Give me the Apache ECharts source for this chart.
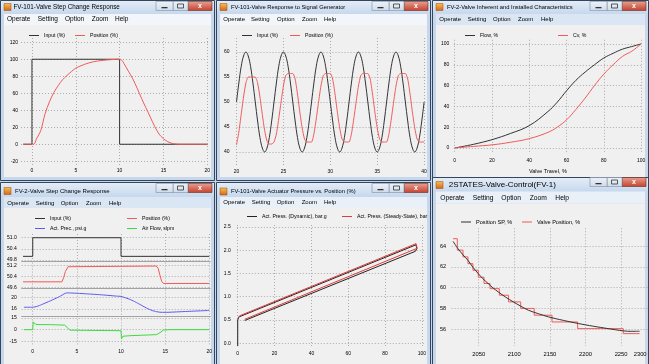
<!DOCTYPE html>
<html><head><meta charset="utf-8">
<script src="https://cdn.jsdelivr.net/npm/echarts@6/dist/echarts.min.js"></script>
<style>html,body{margin:0;padding:0;background:#c7d8ec;}#c{width:649px;height:364px;}</style>
</head><body><div id="c"></div>
<script>
// ---------------- DATA ----------------
// W1: FV-101 step change
const w1Input = [[-1,0],[0,0],[0,100],[10,100],[10,0],[20,0]];
const w1Position = [[-1,0],[0.2,0],[0.5,6],[1,16],[1.5,36],[2,50],[2.5,61],[3,69],[3.5,76],[4,81],[4.5,85.5],[5,89.5],[6,94],[7,97],[8,98.6],[9,99.5],[10,100],[10.2,99.5],[10.5,95],[11,86],[11.5,77],[12,66],[12.5,54],[13,43],[13.5,32],[14,21],[14.5,12],[15,6.5],[15.5,3],[16,1],[16.5,0.2],[17,0],[20,0]];
// W2: signal generator (sampled every 0.25 from t=20)
const w2T0 = 20, w2Dt = 0.25;
const w2Input = [50,53.8,57.1,59.2,60,59.2,57.1,53.8,50,46.2,42.9,40.8,40,40.8,42.9,46.2,
 50,53.8,57.1,59.2,60,59.2,57.1,53.8,50,46.2,42.9,40.8,40,40.8,42.9,46.2,
 50,53.8,57.1,59.2,60,59.2,57.1,53.8,50,46.2,42.9,40.8,40,40.8,42.9,46.2,
 50,53.8,57.1,59.2,60,59.2,57.1,53.8,50,46.2,42.9,40.8,40,40.8,42.9,46.2,
 50,53.8,57.1,59.2,60,59.2,57.1,53.8,50,46.2,42.9,40.8,40,40.8,42.9,46.2,50];
const w2Position = [41.4,44.0,47.5,51.0,53.8,55.0,55.0,55.0,55.0,53.8,51.0,47.5,44.3,42.2,41.6,41.6,
 42.0,43.6,46.6,50.0,53.2,55.3,55.7,55.7,55.7,54.6,51.6,48.0,44.8,42.6,42.0,42.0,
 42.0,43.6,46.6,50.0,53.2,55.3,55.7,55.7,55.7,54.6,51.6,48.0,44.8,42.6,42.0,42.0,
 42.0,43.6,46.6,50.0,53.2,55.3,55.7,55.7,55.7,54.6,51.6,48.0,44.8,42.6,42.0,42.0,
 42.0,43.6,46.6,50.0,53.2,55.3,55.7,55.7,55.7,54.6,51.6,48.0,44.8,42.6,42.0,42.0,42.0];
// W3: valve characteristics
const w3Flow = [[0,0],[10,3.5],[20,8],[30,14],[40,21.5],[50,35],[55,44],[60,55],[65,65],[70,73],[75,80],[80,86.5],[85,91],[90,95],[95,97.5],[100,100]];
const w3Cv = [[0,0],[10,1.5],[20,3],[30,5.5],[40,9],[50,15],[55,20],[60,27],[65,37],[70,48],[75,60],[80,71],[85,80],[90,88],[95,93],[100,100]];
// W4: FV-2 step change (4 stacked panels)
const w4Input = [[-1.1,50],[0,50],[0,51],[10,51],[10,50],[20,50]];
const w4Position = [[-1.1,50],[3.3,50],[3.5,50.3],[3.7,50.75],[4,51.1],[4.2,51.15],[14,51.15],[14.2,51],[14.4,50.5],[14.6,50.05],[14.8,49.88],[20,49.88]];
const w4ActPress = [[-1,16.6],[0,16.6],[0.5,16.9],[1,17.5],[2,18.8],[3,20.2],[3.7,21.4],[4,21.5],[6,21.2],[8,20.8],[9.5,20.4],[10,20.3],[11,19.3],[11.5,18.6],[12,17.8],[12.9,16.3],[13.5,15.5],[14,15.1],[14.4,14.9],[15,14.85],[17,15.1],[20,15.5]];
const w4AirFlow = [[-1,0],[0,0],[0.05,10],[0.2,10.5],[0.3,7],[0.6,6.5],[2,6.4],[3.6,5.8],[3.9,3],[4.2,-0.6],[6,-0.9],[10,-1.4],[10.05,-12],[10.2,-8.5],[11,-7.8],[14,-6.4],[14.4,-4],[14.8,-0.6],[15.5,0],[20,0]];
// W5: actuator pressure loop
const w5Dynamic = [[0,-0.06],[0,0.5],[0.6,0.565],[96.8,2.115],[97.5,2.09],[97.2,2.03],[96.4,1.975],[3.8,0.49]];
const w5Steady = [[0.2,0.545],[1,0.59],[96.8,2.14],[97.8,2.11],[97.4,2.04],[96.4,2.0],[3.8,0.515]];
// W6: 2-state valve control
const w6Sp = [[2014,64.45],[2021,63.74],[2028,63.15],[2035,62.62],[2042,61.95],[2049.5,61.34],[2056,60.85],[2063.5,60.38],[2070,59.98],[2077.6,59.58],[2088,59.08],[2098.7,58.63],[2109,58.22],[2119.8,57.83],[2134,57.49],[2148,57.19],[2169,56.85],[2190,56.55],[2211,56.29],[2232,56.06],[2253.4,55.84],[2265,55.8],[2276,55.81]];
const w6Valve = [[2014,64.7],[2020,63.6],[2028,62.95],[2035,62.3],[2042,61.67],[2049.5,61.0],[2057.5,60.4],[2066,59.9],[2079,59.27],[2092,58.63],[2109,58.0],[2128,57.35],[2153,56.7],[2189,56.06],[2253,55.58],[2276,55.58]];
// tick labels
const ticksX20 = [0,5,10,15,20];
const ticksW1Y = [-20,0,20,40,60,80,100,120];
const ticksW2X = [20,25,30,35,40];
const ticksW2Y = [40,45,50,55,60];
const ticksPct = [0,20,40,60,80,100];
const ticksW4P1 = [49.8,50.4,51.0];
const ticksW4P2 = [49.6,50.4,51.2];
const ticksW4P3 = [16,20];
const ticksW4P4 = [-15,0,15];
const ticksW5Y = [0,0.5,1,1.5,2,2.5];
const ticksW6X = [2050,2100,2150,2200,2250,2300];
const ticksW6Y = [56,58,60,62,64];
const w6LastTickLabel = '2300';
// texts
const MENU = ['Operate','Setting','Option','Zoom','Help'];
const titles = ['FV-101-Valve Step Change Response','FV-101-Valve Response to Signal Generator','FV-2-Valve Inherent and Installed Characteristics','FV-2-Valve Step Change Response','FV-101-Valve Actuator Pressure vs. Position (%)','2STATES-Valve-Control(FV-1)'];

// ---------------- CHROME ----------------
const FONT = "'Liberation Sans', Arial, sans-serif";
const grad = (a,b)=>({type:'linear',x:0,y:0,x2:0,y2:1,colorStops:[{offset:0,color:a},{offset:1,color:b}]});
function rect(x,y,w,h,style){return {type:'rect',z:-10,silent:true,shape:{x,y,width:w,height:h},style};}
function text(x,y,s,size,fill,align,weight){return {type:'text',z:-10,silent:true,x,y,style:{text:s,fill:fill||'#000',font:(weight||'normal')+' '+size+'px '+FONT,align:align||'left',verticalAlign:'middle'}};}
function windowEls(o){
  const e=[]; const {x,y,w,h}=o;
  e.push(rect(x+0.5,y+0.5,w-1,h-1,{fill:'#c7d8ec',stroke:'#33465c',lineWidth:1}));
  e.push(rect(x+1,y+1,w-2,o.menuTop-y-1,{fill:grad('#e3ecf7','#c6d8ee')}));
  e.push(rect(x+4,o.titleY-3.5,7,7,{fill:grad('#f7c24c','#d8621c'),stroke:'#9a4a10',lineWidth:0.5}));
  e.push(text(x+o.titleX,o.titleY,o.title,o.titleSize));
  const by=o.btnY, bh=9, r=x+w-3;
  e.push(rect(r-24,by,24,bh,{fill:grad('#e9a191','#c4402c'),stroke:'#6a2a20',lineWidth:0.6}));
  e.push(text(r-12,by+bh/2,'x',7,'#fff','center','bold'));
  e.push(rect(r-39,by,15,bh,{fill:grad('#eef3f9','#cfdbe9'),stroke:'#7d8ea3',lineWidth:0.6}));
  e.push(rect(r-34.5,by+2.5,6,4,{fill:'none',stroke:'#333',lineWidth:0.8}));
  e.push(rect(r-56,by,17,bh,{fill:grad('#eef3f9','#cfdbe9'),stroke:'#7d8ea3',lineWidth:0.6}));
  e.push(rect(r-50.5,by+5.5,6,1.3,{fill:'#333'}));
  e.push(rect(x+4,o.menuTop,w-8,o.clientTop-o.menuTop,{fill:o.menuFill}));
  o.menuX.forEach((mx,i)=>e.push(text(x+mx,o.menuY,MENU[i],o.menuSize)));
  e.push(rect(x+4,o.clientTop,w-8,y+h-4-o.clientTop,{fill:'#f0f0f0'}));
  return e;
}
const wins = [
 {x:0,y:0,w:215,h:181,title:titles[0],titleX:13.5,titleY:7,titleSize:6.3,btnY:1.5,menuTop:14,menuY:19.5,clientTop:25,menuX:[7,37.7,65,91.7,115],menuSize:6.5,menuFill:'#f2f5f9'},
 {x:216,y:0,w:215,h:181,title:titles[1],titleX:15,titleY:7,titleSize:5.8,btnY:1.5,menuTop:14,menuY:19.5,clientTop:25,menuX:[7.3,35,61,86,108],menuSize:6,menuFill:'#f2f5f9'},
 {x:432,y:0,w:217,h:181,title:titles[2],titleX:15,titleY:7,titleSize:5.8,btnY:1.5,menuTop:14,menuY:19.5,clientTop:25,menuX:[7.3,35.7,61,86,109],menuSize:6,menuFill:'#dbe6f4'},
 {x:0,y:182,w:215,h:186,title:titles[3],titleX:15,titleY:191,titleSize:6,btnY:183.5,menuTop:197,menuY:203,clientTop:208,menuX:[7.3,35.7,60.7,86,109],menuSize:6,menuFill:'#dbe6f4'},
 {x:216,y:182,w:215,h:186,title:titles[4],titleX:15,titleY:191.5,titleSize:5.8,btnY:183.5,menuTop:197,menuY:202.5,clientTop:208,menuX:[7.3,35.7,60.7,85.7,108],menuSize:6,menuFill:'#eaf0f7'},
 {x:432,y:177,w:217,h:191,title:titles[5],titleX:16.7,titleY:185,titleSize:8,btnY:177.5,menuTop:191.5,menuY:197.7,clientTop:203.5,menuX:[8.3,40.7,69.3,97.7,123.3],menuSize:6.7,menuFill:'#eaf0f7'}
];
let graphicEls = [];
wins.forEach(o=>{graphicEls = graphicEls.concat(windowEls(o));});
// last W6 x tick label, drawn squeezed against the window edge as in the original
graphicEls.push({type:'text',z:5,silent:true,x:633.7,y:354.3,style:{text:w6LastTickLabel,fill:'#000',font:'5.8px '+FONT,align:'left',verticalAlign:'middle'}});

// ---------------- AXES ----------------
const gridRects = [
 [21,38,188,127.5],[236.5,38,189.5,128],[453.8,39.8,188.2,113.9],
 [21.7,234,188.5,27],[21.7,262.6,188.5,26.1],[21.7,289.7,188.5,26.6],[21.7,316.4,188.5,29.6],
 [236.8,225,187,121.1],[451.6,228.3,205.1,117.6]
];
const grids = gridRects.map(g=>({left:g[0],top:g[1],width:g[2],height:g[3],containLabel:false,outerBoundsMode:'none',show:false}));
const split = {show:true,lineStyle:{color:'#ababab',type:[1,2],width:1}};
const plain = v=>String(v);
function ax(gi,min,max,ticks,o){
  o=o||{};
  const lab = {show:o.labels!==false,customValues:o.labelTicks||ticks,fontSize:o.fs||5,color:'#000',fontFamily:FONT,margin:o.margin!=null?o.margin:3,formatter:o.fmt||plain};
  const a = {type:'value',gridIndex:gi,min,max,
    axisLine:{show:!!o.line,onZero:false,lineStyle:{color:'#a2a2a2',width:1}},
    axisTick:{show:false,customValues:ticks},
    axisLabel:lab,splitLine:split,silent:true};
  if(o.name){a.name=o.name;a.nameLocation='middle';a.nameGap=o.nameGap;a.nameTextStyle={fontSize:5.5,color:'#000',fontFamily:FONT};}
  return a;
}
const f1 = v=>v.toFixed(1);
const xAxes = [
 ax(0,-1.25,20.2,ticksX20,{margin:3}),
 ax(1,20,40.2,ticksW2X,{margin:3.5}),
 ax(2,-0.5,100.5,ticksPct,{margin:4.8,name:'Valve Travel, %',nameGap:15}),
 ax(3,-1.25,20.1,ticksX20,{labels:false,line:true}),
 ax(4,-1.25,20.1,ticksX20,{labels:false,line:true}),
 ax(5,-1.25,20.1,ticksX20,{labels:false,line:true}),
 ax(6,-1.25,20.1,ticksX20,{margin:2.8}),
 ax(7,-0.5,101,ticksPct,{margin:4.7}),
 ax(8,2012,2300,ticksW6X,{margin:5.5,fs:5.8,labelTicks:ticksW6X.slice(0,-1)})
];
const yAxes = [
 ax(0,-25,125,ticksW1Y,{margin:3}),
 ax(1,37.2,62.8,ticksW2Y,{margin:7}),
 ax(2,-5.5,104,ticksPct,{margin:4.5}),
 ax(3,49.75,51.2,ticksW4P1,{margin:5,fmt:f1}),
 ax(4,49.5,51.4,ticksW4P2,{margin:5,fmt:f1}),
 ax(5,13.5,22.6,ticksW4P3,{margin:5}),
 ax(6,-21,17,ticksW4P4,{margin:5}),
 ax(7,-0.06,2.54,ticksW5Y,{margin:6,fmt:f1}),
 ax(8,54.4,65.7,ticksW6Y,{margin:5.5,fs:5.5})
];

// ---------------- SERIES ----------------
const BLACK='#333333', RED='#f05a5a';
function ser(name,data,gi,color,o){
  o=o||{};
  return {type:'line',name,data,xAxisIndex:gi,yAxisIndex:gi,color,symbol:'none',showSymbol:false,silent:true,animation:false,
    lineStyle:{width:o.w||1,color},smooth:o.smooth||false,step:o.step||false,emphasis:{disabled:true},z:o.z||2};
}
const w2InPts = w2Input.map((v,i)=>[w2T0+i*w2Dt,v]);
const w2PosPts = w2Position.map((v,i)=>[w2T0+i*w2Dt,v]);
const series = [
 ser('Input (%)',w1Input,0,BLACK),
 ser('Position (%)',w1Position,0,RED,{smooth:0.3}),
 ser('Input (%)',w2InPts,1,BLACK,{smooth:0.4}),
 ser('Position (%)',w2PosPts,1,RED,{smooth:0.2}),
 ser('Flow, %',w3Flow,2,BLACK,{smooth:0.4}),
 ser('Cv, %',w3Cv,2,RED,{smooth:0.4}),
 ser('Input (%)',w4Input,3,BLACK),
 ser('Position (%)',w4Position,4,RED),
 ser('Act. Prec., psi.g',w4ActPress,5,'#5b5bef',{smooth:0.2}),
 ser('Air Flow, slpm',w4AirFlow,6,'#3ddc3d'),
 ser('Act. Press. (Dynamic), bar.g',w5Dynamic,7,'#222222'),
 ser('Act. Press. (Steady-State), bar.g',w5Steady,7,'#e03c3c'),
 ser('Position SP, %',w6Sp,8,BLACK,{smooth:0.3,z:3}),
 ser('Valve Position, %',w6Valve,8,RED,{step:'end'})
];

// ---------------- LEGENDS ----------------
const legendItems = [
 {n:'Input (%)',l:29,c:33},{n:'Position (%)',l:75,c:33},
 {n:'Input (%)',l:242,c:33},{n:'Position (%)',l:290,c:33},
 {n:'Flow, %',l:465,c:33},{n:'Cv, %',l:558,c:33},
 {n:'Input (%)',l:35,c:216},{n:'Position (%)',l:127,c:216},
 {n:'Act. Prec., psi.g',l:35,c:226},{n:'Air Flow, slpm',l:127,c:226},
 {n:'Act. Press. (Dynamic), bar.g',l:247,c:214},{n:'Act. Press. (Steady-State), bar.g',l:342,c:214,w:72},
 {n:'Position SP, %',l:461,c:219,fs:5.6},{n:'Valve Position, %',l:522,c:219,fs:5.6}
];
const legends = legendItems.map(L=>{
  const ts = {fontSize:L.fs||5.2,color:'#000',fontFamily:FONT};
  if(L.w){ts.width=L.w;ts.overflow='truncate';ts.ellipsis='';}
  return {data:[L.n],left:L.l,top:Math.round(L.c-0.5),orient:'horizontal',padding:0,itemWidth:10,itemHeight:1,icon:'rect',itemGap:0,selectedMode:false,itemStyle:{borderWidth:0},textStyle:ts};
});

const chart = echarts.init(document.getElementById('c'),null,{renderer:'canvas',width:649,height:364});
chart.setOption({
  animation:false,
  backgroundColor:'#c7d8ec',
  graphic:{elements:graphicEls},
  grid:grids, xAxis:xAxes, yAxis:yAxes, legend:legends, series:series,
  tooltip:{show:false}
});
</script></body></html>
